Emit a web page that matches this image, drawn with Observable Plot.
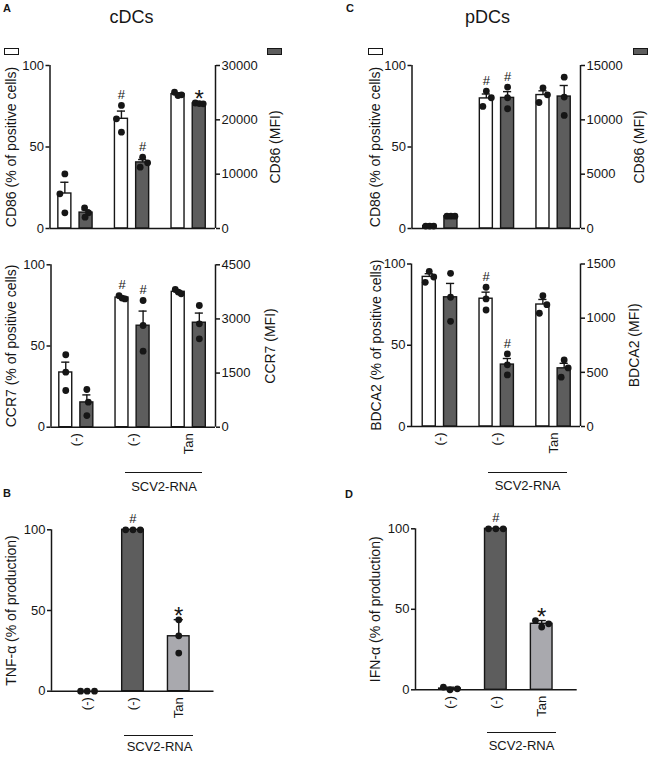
<!DOCTYPE html>
<html>
<head>
<meta charset="utf-8">
<script src="https://cdn.jsdelivr.net/npm/d3@7"></script>
<script src="https://cdn.jsdelivr.net/npm/@observablehq/plot@0.6"></script>
<style>
  html, body { margin: 0; padding: 0; background: #fff; }
  #fig { position: relative; width: 649px; height: 758px; overflow: hidden;
         font-family: "Liberation Sans", Arial, Helvetica, sans-serif; color: #161616; }
  #fig svg { position: absolute; left: 0; top: 0; }
</style>
</head>
<body>
<div id="fig"></div>
<script>
// ---------------- data ----------------
const groupLabels = ["(-)", "(-)", "Tan"];
const treatmentLabel = "SCV2-RNA";

// cDCs, CD86
const cdcCd86Pct = [[33.5, 21.3, 9.6], [75.5, 67.3, 59.1], [83.6, 82.0, 81.6]];
const cdcCd86PctJit = [[0, -1, 0], [0, -1, 0], [-0.7, 0.7, 0]];
const cdcCd86PctSig = ["", "#", ""];
const cdcCd86Mfi = [[3810, 2890, 2080], [13120, 12090, 11280], [23100, 23000, 22950]];
const cdcCd86MfiJit = [[-0.3, 0.5, -0.2], [0, 1, -0.5], [-0.8, 0, 0.8]];
const cdcCd86MfiSig = ["", "#", "*"];

// cDCs, CCR7
const cdcCcr7Pct = [[44.6, 33.9, 22.6], [81.0, 79.5, 79.0], [84.8, 83.2, 82.1]];
const cdcCcr7PctJit = [[0, 0, 0], [-0.6, 0, 0.6], [-0.6, 0, 0.6]];
const cdcCcr7PctSig = ["", "#", ""];
const cdcCcr7Mfi = [[1044, 693, 323], [3511, 2818, 2107], [3372, 2865, 2449]];
const cdcCcr7MfiJit = [[0, 0.3, 0], [0, 0, 0], [0, 0, 0]];
const cdcCcr7MfiSig = ["", "#", ""];

// pDCs, CD86
const pdcCd86Pct = [[1.5, 1.5, 1.5], [84.3, 80.2, 74.9], [86.3, 82.0, 77.3]];
const pdcCd86PctJit = [[-0.8, 0, 0.8], [0, 1, -0.7], [0, 0.9, -0.8]];
const pdcCd86PctSig = ["", "#", ""];
const pdcCd86Mfi = [[1130, 1130, 1130], [13010, 12030, 11020], [13930, 12090, 10410]];
const pdcCd86MfiJit = [[-0.8, 0, 0.8], [0, 0, 0], [0, 0, 0]];
const pdcCd86MfiSig = ["", "#", ""];

// pDCs, BDCA2
const pdcBdca2Pct = [[95.5, 92.0, 88.7], [85.7, 78.5, 71.7], [80.5, 75.0, 69.7]];
const pdcBdca2PctJit = [[0, 0.9, -0.8], [0, 0, 0], [0, 0.8, -0.7]];
const pdcBdca2PctSig = ["", "#", ""];
const pdcBdca2Mfi = [[1414, 1193, 971], [670, 569, 476], [615, 541, 455]];
const pdcBdca2MfiJit = [[0, 0, 0], [0, 0, 0], [0, 0.8, -0.6]];
const pdcBdca2MfiSig = ["", "#", ""];

// cytokines
const tnfPct = [[0, 0, 0], [100, 100, 100], [44.2, 34.3, 23.6]];
const tnfJit = [[-0.9, 0, 1], [-1, 0, 1], [0, 0, 0]];
const tnfSig = ["", "#", "*"];
const ifnPct = [[1.7, 0, 0.6], [100, 100, 100], [43, 39, 41]];
const ifnJit = [[-0.9, 0, 1], [-1, 0, 1], [-0.85, 0, 0.95]];
const ifnSig = ["", "#", "*"];

const pctTicks = [0, 50, 100];

// ---------------- style ----------------
const W = 649, H = 758;
const INK = "#161616";
const WHITE = "#ffffff", DARK = "#5d5d5d", LIGHT = "#a9a9ae";
const FONT = "'Liberation Sans', Arial, Helvetica, sans-serif";
const fig = document.getElementById("fig");

function statsOf(values, errKind) {
  return values.map((vals, g) => {
    const mean = d3.mean(vals);
    const sd = d3.deviation(vals) || 0;
    const err = errKind === "sd" ? sd : sd / Math.sqrt(vals.length);
    return {g, mean, err, top: Math.max(d3.max(vals), mean + err)};
  });
}

function seriesMarks({values, sig, jitter, fills, errKind, off, hw, cap, ju}) {
  const stats = statsOf(values, errKind).map((s, i) => ({...s, sig: sig[i], fill: fills[i]}));
  const pts = values.flatMap((vals, g) => vals.map((v, k) => ({g, v, j: jitter[g][k]})));
  const cx = d => d.g + off;
  const withErr = stats.filter(d => d.err > 0);
  return [
    Plot.rect(stats, {x1: d => cx(d) - hw, x2: d => cx(d) + hw, y1: () => 0, y2: "mean",
      fill: d => d.fill, stroke: INK, strokeWidth: 1.4}),
    Plot.ruleX(withErr, {x: cx, y1: "mean", y2: d => d.mean + d.err, stroke: INK, strokeWidth: 1.4}),
    Plot.ruleY(withErr, {y: d => d.mean + d.err, x1: d => cx(d) - cap, x2: d => cx(d) + cap, stroke: INK, strokeWidth: 1.4}),
    Plot.dot(pts, {x: d => d.g + off + d.j * ju, y: "v", r: 3.4, fill: INK, stroke: "none"}),
    Plot.text(stats.filter(d => d.sig === "#"), {x: cx, y: "top", text: "sig", dy: -10.5, fontSize: 13, fill: INK}),
    Plot.text(stats.filter(d => d.sig === "*"), {x: cx, y: "top", text: "sig", dy: -3.5, fontSize: 24, fill: INK})
  ];
}

function axisMarks({side, xDomain, ticks, label, dx}) {
  return [
    Plot.ruleX([side === "left" ? xDomain[0] : xDomain[1]], {stroke: INK, strokeWidth: 1.5}),
    Plot.axisY({anchor: side, ticks, tickSize: 4, tickPadding: 2, tickFormat: d => String(d),
      label: null, fontSize: 13, strokeWidth: 1.5, stroke: INK, fill: INK}),
    Plot.text([label], {text: d => d, frameAnchor: side, dx, rotate: -90, textAnchor: "middle",
      lineAnchor: "middle", fontSize: 14, fill: INK})
  ];
}

// rotated category labels under the x axis, one per group position on the x scale
function xLabelMarks() {
  return [Plot.text(groupLabels, {x: (d, i) => i, text: d => d, frameAnchor: "bottom", dy: 6,
    rotate: -90, textAnchor: "end", lineAnchor: "middle", fontSize: 13, fill: INK})];
}

function layer({frame, xDomain, yDomain, marks}) {
  const [l, t, r, b] = frame;
  const svg = Plot.plot({
    width: W, height: H,
    marginLeft: l, marginRight: W - r, marginTop: t, marginBottom: H - b,
    x: {type: "linear", domain: xDomain, axis: null},
    y: {type: "linear", domain: yDomain},
    color: {type: "identity"},
    style: {background: "transparent", fontFamily: FONT, fontSize: "13px", color: INK, overflow: "visible"},
    marks
  });
  fig.appendChild(svg);
}

// dual-axis panel: white bars on left % axis, dark bars on right MFI axis
function dualPanel(p) {
  const geo = {hw: 0.115, cap: 0.072, ju: 0.088};
  layer({frame: p.frame, xDomain: p.xDomain, yDomain: [0, 100], marks: [
    ...axisMarks({side: "left", xDomain: p.xDomain, ticks: pctTicks, label: p.leftLabel, dx: p.leftDx}),
    ...(p.showX ? xLabelMarks() : []),
    ...seriesMarks({values: p.pct, sig: p.pctSig, jitter: p.pctJit, fills: [WHITE, WHITE, WHITE],
      errKind: "sem", off: -0.1875, ...geo}),
    Plot.ruleY([0], {stroke: INK, strokeWidth: 1.5})
  ]});
  layer({frame: p.frame, xDomain: p.xDomain, yDomain: [0, p.mfiMax], marks: [
    ...axisMarks({side: "right", xDomain: p.xDomain, ticks: p.mfiTicks, label: p.rightLabel, dx: p.rightDx}),
    ...seriesMarks({values: p.mfi, sig: p.mfiSig, jitter: p.mfiJit, fills: [DARK, DARK, DARK],
      errKind: "sem", off: 0.1875, ...geo})
  ]});
}

function cytokinePanel(p) {
  layer({frame: p.frame, xDomain: p.xDomain, yDomain: [0, 100], marks: [
    ...axisMarks({side: "left", xDomain: p.xDomain, ticks: pctTicks, label: p.label, dx: p.dx}),
    ...xLabelMarks(),
    ...seriesMarks({values: p.values, sig: p.sig, jitter: p.jit, fills: [WHITE, DARK, LIGHT],
      errKind: "sd", off: 0, hw: 0.236, cap: 0.1, ju: 0.16}),
    Plot.ruleY([0], {stroke: INK, strokeWidth: 1.5})
  ]});
}

// ---------------- panels ----------------
const cdcX = [-0.45, 2.475], pdcX = [-0.5, 2.475];

dualPanel({frame: [49.5, 65, 215, 228], xDomain: cdcX, showX: false,
  pct: cdcCd86Pct, pctJit: cdcCd86PctJit, pctSig: cdcCd86PctSig,
  mfi: cdcCd86Mfi, mfiJit: cdcCd86MfiJit, mfiSig: cdcCd86MfiSig,
  mfiMax: 30000, mfiTicks: [0, 10000, 20000, 30000],
  leftLabel: "CD86 (% of positive cells)", leftDx: -38.5, rightLabel: "CD86 (MFI)", rightDx: 60});

dualPanel({frame: [50.5, 264.3, 215, 426.7], xDomain: cdcX, showX: true,
  pct: cdcCcr7Pct, pctJit: cdcCcr7PctJit, pctSig: cdcCcr7PctSig,
  mfi: cdcCcr7Mfi, mfiJit: cdcCcr7MfiJit, mfiSig: cdcCcr7MfiSig,
  mfiMax: 4500, mfiTicks: [0, 1500, 3000, 4500],
  leftLabel: "CCR7 (% of positive cells)", leftDx: -39.5, rightLabel: "CCR7 (MFI)", rightDx: 55});

dualPanel({frame: [411.5, 65, 580, 228], xDomain: pdcX, showX: false,
  pct: pdcCd86Pct, pctJit: pdcCd86PctJit, pctSig: pdcCd86PctSig,
  mfi: pdcCd86Mfi, mfiJit: pdcCd86MfiJit, mfiSig: pdcCd86MfiSig,
  mfiMax: 15000, mfiTicks: [0, 5000, 10000, 15000],
  leftLabel: "CD86 (% of positive cells)", leftDx: -36.5, rightLabel: "CD86 (MFI)", rightDx: 59});

dualPanel({frame: [411, 263.5, 580, 426], xDomain: pdcX, showX: true,
  pct: pdcBdca2Pct, pctJit: pdcBdca2PctJit, pctSig: pdcBdca2PctSig,
  mfi: pdcBdca2Mfi, mfiJit: pdcBdca2MfiJit, mfiSig: pdcBdca2MfiSig,
  mfiMax: 1500, mfiTicks: [0, 500, 1000, 1500],
  leftLabel: "BDCA2 (% of positive cells)", leftDx: -35, rightLabel: "BDCA2 (MFI)", rightDx: 54});

cytokinePanel({frame: [51, 529.3, 213.5, 690.7], xDomain: [-0.78, 2.77],
  values: tnfPct, jit: tnfJit, sig: tnfSig, label: "TNF-α (% of production)", dx: -40});

cytokinePanel({frame: [415, 528.3, 576.7, 689.3], xDomain: [-0.752, 2.774],
  values: ifnPct, jit: ifnJit, sig: ifnSig, label: "IFN-α (% of production)", dx: -40});

// ---------------- annotations (titles, panel letters, legend keys, brackets) ----------------
function txt(str, x, baseline, {size = 13, weight = "normal", anchor = "middle"} = {}) {
  const d = document.createElement("div");
  d.textContent = str;
  Object.assign(d.style, {position: "absolute", left: x + "px", top: (baseline - 0.8465 * size) + "px",
    fontSize: size + "px", lineHeight: size + "px", fontWeight: weight, whiteSpace: "nowrap",
    transform: anchor === "middle" ? "translateX(-50%)" : "none"});
  fig.appendChild(d);
}
function box(x, y, w, h, fill) {
  const d = document.createElement("div");
  Object.assign(d.style, {position: "absolute", left: x + "px", top: y + "px", width: w + "px", height: h + "px",
    background: fill, border: "1.5px solid " + INK, boxSizing: "border-box"});
  fig.appendChild(d);
}
function hline(x1, x2, y) {
  const d = document.createElement("div");
  Object.assign(d.style, {position: "absolute", left: x1 + "px", top: (y - 0.75) + "px", width: (x2 - x1) + "px",
    height: "1.5px", background: INK});
  fig.appendChild(d);
}

txt("A", 3, 12, {size: 11, weight: "bold", anchor: "start"});
txt("C", 346, 12, {size: 11, weight: "bold", anchor: "start"});
txt("B", 3, 497, {size: 11, weight: "bold", anchor: "start"});
txt("D", 345, 498, {size: 11, weight: "bold", anchor: "start"});
txt("cDCs", 131.5, 23, {size: 18});
txt("pDCs", 487.5, 23, {size: 18});

box(3.5, 48, 15, 7, WHITE);
box(267, 48, 15, 7, DARK);
box(368, 48, 15, 7, WHITE);
box(632.5, 48, 15, 7, DARK);

hline(125, 202, 472.7);  txt(treatmentLabel, 164, 491);
hline(488, 567, 472.7);  txt(treatmentLabel, 527.5, 490);
hline(124, 193, 735.7);  txt(treatmentLabel, 159.5, 751.5);
hline(487, 556, 732.3);  txt(treatmentLabel, 521.5, 750);
</script>
</body>
</html>
